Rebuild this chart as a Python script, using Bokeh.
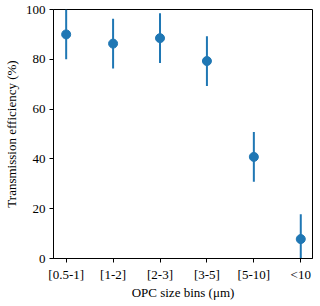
from bokeh.plotting import figure
from bokeh.models import FixedTicker, Range1d
from bokeh.embed import file_html
from bokeh.resources import INLINE

categories = ["[0.5-1]", "[1-2]", "[2-3]", "[3-5]", "[5-10]", "<10"]
efficiency = [90.0, 86.3, 88.5, 79.3, 40.8, 7.8]
errors = [10.0, 10.0, 10.0, 10.0, 10.0, 10.0]
y_ticks = [0, 20, 40, 60, 80, 100]

xs = list(range(len(categories)))
lo = [v - e for v, e in zip(efficiency, errors)]
hi = [v + e for v, e in zip(efficiency, errors)]

FONT = "Liberation Serif"
BLUE = "#1f77b4"

p = figure(frame_width=259, frame_height=249, output_backend="svg",
           toolbar_location=None, x_range=Range1d(-0.27, 5.25),
           y_range=Range1d(0, 100), min_border_left=45, min_border_top=9,
           min_border_right=5, min_border_bottom=5)
p.outline_line_color = "black"
p.outline_line_alpha = 1
p.outline_line_width = 1
p.xgrid.visible = False
p.ygrid.visible = False
p.background_fill_color = "white"
p.border_fill_color = "white"

p.segment(x0=xs, y0=lo, x1=xs, y1=hi, line_color=BLUE, line_width=2)
p.scatter(x=xs, y=efficiency, size=9, fill_color=BLUE, line_color=BLUE)

p.xaxis.ticker = FixedTicker(ticks=xs)
p.xaxis.major_label_overrides = {i: c for i, c in enumerate(categories)}
p.yaxis.ticker = FixedTicker(ticks=y_ticks)
p.xaxis.axis_label = "OPC size bins (μm)"
p.yaxis.axis_label = "Transmission efficiency (%)"

for ax in (p.xaxis, p.yaxis):
    ax.axis_label_text_font = FONT
    ax.axis_label_text_font_style = "normal"
    ax.axis_label_text_font_size = "13px"
    ax.major_label_text_font = FONT
    ax.major_label_text_font_size = "13px"
    ax.major_label_text_color = "black"
    ax.axis_label_text_color = "black"
    ax.axis_line_color = "black"
    ax.major_tick_line_color = "black"
    ax.minor_tick_line_color = None
    ax.major_tick_out = 4
    ax.major_tick_in = 0
    ax.major_label_standoff = 4
    ax.axis_label_standoff = 4
p.xaxis.axis_label_standoff = 0

open("out.html", "w").write(file_html(p, INLINE))
